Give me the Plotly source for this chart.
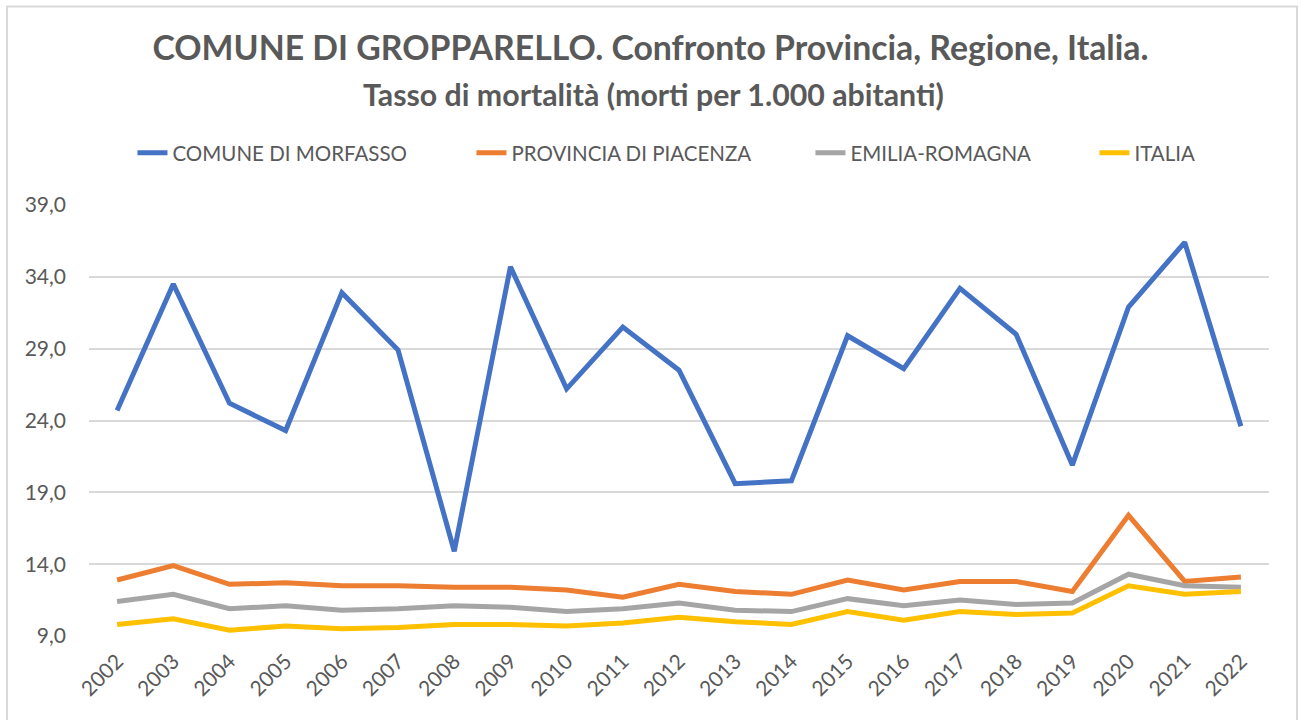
import plotly.graph_objects as go

years = [str(y) for y in range(2002, 2023)]

comune = [24.7, 33.5, 25.2, 23.3, 32.9, 28.9, 14.9, 34.7, 26.2, 30.5, 27.5,
          19.6, 19.8, 29.9, 27.6, 33.2, 30.0, 20.9, 31.9, 36.4, 23.6]
provincia = [12.9, 13.9, 12.6, 12.7, 12.5, 12.5, 12.4, 12.4, 12.2, 11.7, 12.6,
             12.1, 11.9, 12.9, 12.2, 12.8, 12.8, 12.1, 17.4, 12.8, 13.1]
regione = [11.4, 11.9, 10.9, 11.1, 10.8, 10.9, 11.1, 11.0, 10.7, 10.9, 11.3,
           10.8, 10.7, 11.6, 11.1, 11.5, 11.2, 11.3, 13.3, 12.5, 12.4]
italia = [9.8, 10.2, 9.4, 9.7, 9.5, 9.6, 9.8, 9.8, 9.7, 9.9, 10.3,
          10.0, 9.8, 10.7, 10.1, 10.7, 10.5, 10.6, 12.5, 11.9, 12.1]

# name, values, colour, legend entry width (px)
series = [
    ("COMUNE DI MORFASSO", comune, "#4472C4", 294),
    ("PROVINCIA DI PIACENZA", provincia, "#ED7D31", 294),
    ("EMILIA-ROMAGNA", regione, "#A5A5A5", 239),
    ("ITALIA", italia, "#FFC000", 80),
]

TEXT = "#595959"
FONT = "Lato"

fig = go.Figure()
for name, vals, color, lw in series:
    fig.add_trace(go.Scatter(
        x=years, y=vals, name=name, mode="lines",
        line=dict(color=color, width=5, shape="linear"),
        legendwidth=lw,
    ))

W, H = 1301, 720
ml, mr, mt, mb = 88.5, 31.5, 205, 84
ph = H - mt - mb
pw = W - ml - mr


def py(pix):
    return (H - mb - pix) / ph


def px(pix):
    return (pix - ml) / pw


fig.update_layout(
    width=W, height=H,
    margin=dict(l=ml, r=mr, t=mt, b=mb, autoexpand=False),
    paper_bgcolor="white", plot_bgcolor="white",
    separators=",.",
    font=dict(family=FONT, color=TEXT, size=18),
    title=dict(
        text="<b>COMUNE DI GROPPARELLO. Confronto Provincia, Regione, Italia.</b>",
        x=0.5, xanchor="center", xref="container",
        y=1 - 48 / H, yanchor="middle", yref="container",
        font=dict(family=FONT, size=33.8, color=TEXT),
    ),
    legend=dict(
        orientation="h", x=px(132), xanchor="left",
        y=py(153), yanchor="middle",
        font=dict(family=FONT, size=20.5, color=TEXT),
        tracegroupgap=0,
    ),
    showlegend=True,
    xaxis=dict(
        type="category", range=[-0.5, 20.5],
        showgrid=False, zeroline=False, showline=False,
        tickangle=-45, ticks="", ticklabelstandoff=8,
        tickfont=dict(family=FONT, size=21, color=TEXT),
    ),
    yaxis=dict(
        range=[9, 39], tick0=9, dtick=5, tickformat=".1f",
        showgrid=True, gridcolor="#D9D9D9", gridwidth=1.5,
        zeroline=False, showline=False, ticks="", ticklabelstandoff=22,
        tickfont=dict(family=FONT, size=21, color=TEXT),
    ),
    annotations=[dict(
        text="<b>Tasso di mortalità (morti per 1.000 abitanti)</b>",
        xref="paper", yref="paper", x=px(653), y=py(94),
        xanchor="center", yanchor="middle", showarrow=False,
        font=dict(family=FONT, size=30.3, color=TEXT),
    )],
    shapes=[dict(
        type="rect", xref="paper", yref="paper",
        x0=px(6.5), x1=px(1297.5), y0=py(740), y1=py(6.5),
        line=dict(color="#D9D9D9", width=2), fillcolor="rgba(0,0,0,0)",
        layer="below",
    )],
)

fig.write_html("out.html")
